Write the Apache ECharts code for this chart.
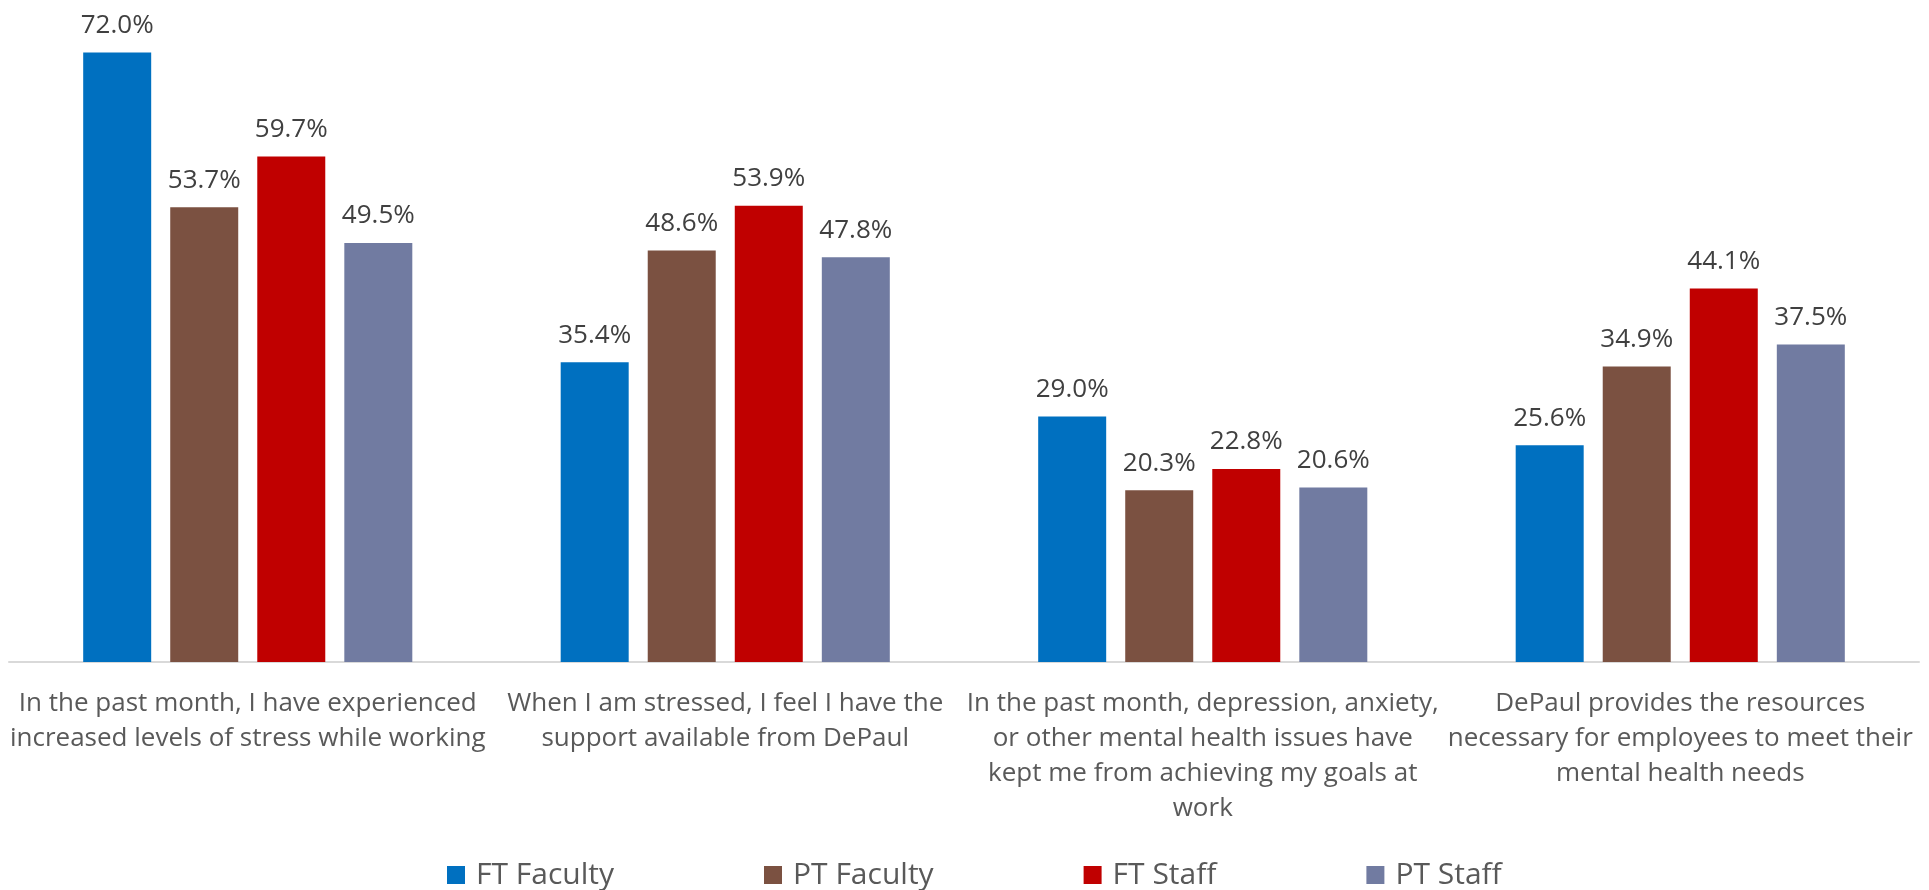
<!DOCTYPE html>
<html>
<head>
<meta charset="utf-8">
<script src="https://cdn.jsdelivr.net/npm/echarts@6/dist/echarts.min.js"></script>
<style>
html,body{margin:0;padding:0;background:#fff;}
#chart{width:1929px;height:890px;}
</style>
</head>
<body>
<div id="chart"></div>
<script>
const categories = [
  "In the past month, I have experienced\nincreased levels of stress while working",
  "When I am stressed, I feel I have the\nsupport available from DePaul",
  "In the past month, depression, anxiety,\nor other mental health issues have\nkept me from achieving my goals at\nwork",
  "DePaul provides the resources\nnecessary for employees to meet their\nmental health needs"
];
const seriesNames = ["FT Faculty", "PT Faculty", "FT Staff", "PT Staff"];
const ftFaculty = [72.0, 35.4, 29.0, 25.6];
const ptFaculty = [53.7, 48.6, 20.3, 34.9];
const ftStaff = [59.7, 53.9, 22.8, 44.1];
const ptStaff = [49.5, 47.8, 20.6, 37.5];
const colors = ["#0070C0", "#7B5141", "#C00000", "#717BA1"];

const values = [ftFaculty, ptFaculty, ftStaff, ptStaff];
const chart = echarts.init(document.getElementById('chart'));
chart.setOption({
  animation: false,
  backgroundColor: '#ffffff',
  grid: { left: 9, right: 10, top: 27, bottom: 228, containLabel: false },
  legend: {
    left: 447, top: 860, padding: 0,
    itemWidth: 18, itemHeight: 18, itemGap: 150,
    icon: 'rect',
    textStyle: { fontFamily: 'Open Sans', fontSize: 30, color: '#595959', lineHeight: 30, padding: [0,0,0,6] },
    data: seriesNames
  },
  xAxis: {
    type: 'category',
    data: categories,
    axisTick: { show: false },
    axisLine: { lineStyle: { color: '#d9d9d9', width: 2 } },
    axisLabel: {
      interval: 0, margin: 24,
      fontFamily: 'Open Sans', fontSize: 26, lineHeight: 35, color: '#595959',
      align: 'center'
    }
  },
  yAxis: { type: 'value', min: 0, max: 75, show: false, splitLine: { show: false } },
  series: seriesNames.map((n, i) => ({
    name: n, type: 'bar', data: values[i],
    barWidth: 68, barGap: '28%',
    itemStyle: { color: colors[i] },
    label: {
      show: true, position: 'top', distance: 14,
      fontFamily: 'Open Sans', fontSize: 26, color: '#404040',
      formatter: p => p.value.toFixed(1) + '%'
    }
  }))
});
</script>
</body>
</html>
